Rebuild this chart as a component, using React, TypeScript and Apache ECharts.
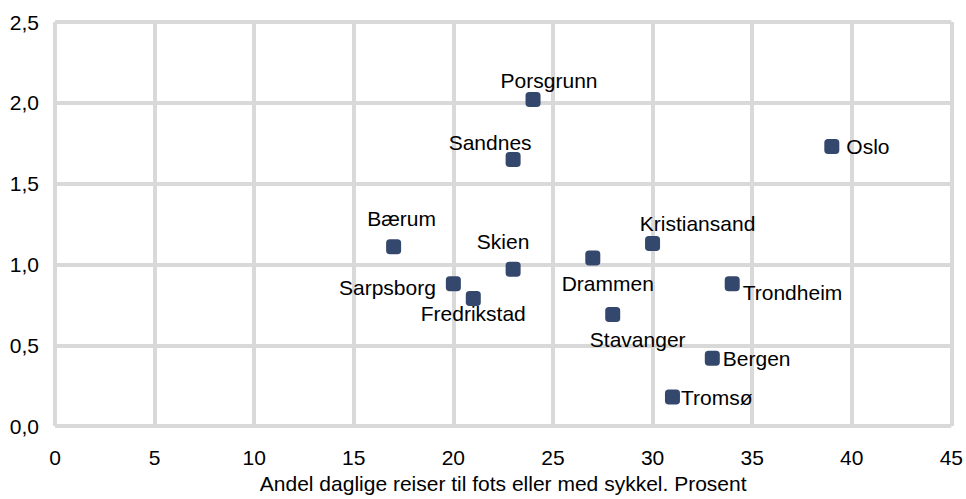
import React, { useEffect, useRef } from "react";
import * as echarts from "echarts";

const cities = [
  "Porsgrunn", "Sandnes", "Oslo", "Bærum", "Skien", "Kristiansand", "Drammen",
  "Sarpsborg", "Fredrikstad", "Trondheim", "Stavanger", "Bergen", "Tromsø",
];
const walkBikeShare = [24, 23, 39, 17, 23, 30, 27, 20, 21, 34, 28, 33, 31];
const yValues = [2.02, 1.65, 1.73, 1.11, 0.97, 1.13, 1.04, 0.88, 0.79, 0.88, 0.69, 0.42, 0.18];

const xTitle = "Andel daglige reiser til fots eller med sykkel. Prosent";

// label placement (styling only)
const labelStyle: Record<string, any> = {
  Porsgrunn: { position: "top", distance: 1, offset: [16, 0] },
  Sandnes: { position: "top", distance: -1, offset: [-23, 0] },
  Oslo: { position: "right", distance: 7 },
  "Bærum": { position: "top", distance: 10, offset: [8, 0] },
  Skien: { position: "top", distance: 10, offset: [-10, 0] },
  Kristiansand: { position: "top", distance: 2, offset: [45, 0] },
  Drammen: { position: "bottom", distance: 8, offset: [15, 0] },
  Sarpsborg: { position: "left", distance: 10, offset: [0, 4] },
  Fredrikstad: { position: "bottom", distance: 0, offset: [0, -3] },
  Trondheim: { position: "right", distance: 3, offset: [0, 9] },
  Stavanger: { position: "bottom", distance: 7, offset: [25, 0] },
  Bergen: { position: "right", distance: 3 },
  "Tromsø": { position: "right", distance: 1 },
};

const FONT = "'Liberation Sans', Arial, sans-serif";
const GRID_COLOR = "#d9d9d9";

export default function App() {
  const ref = useRef<HTMLDivElement>(null);
  useEffect(() => {
    if (!ref.current) return;
    const chart = echarts.init(ref.current, undefined, { renderer: "svg" });
    const data = cities.map((c, i) => ({
      name: c,
      value: [walkBikeShare[i], yValues[i]],
      label: { show: true, formatter: c, ...labelStyle[c] },
    }));
    chart.setOption({
      animation: false,
      textStyle: { fontFamily: FONT },
      grid: { left: 55, right: 14, top: 22, bottom: 66, containLabel: false },
      xAxis: {
        type: "value",
        min: 0,
        max: 45,
        interval: 5,
        name: xTitle,
        nameLocation: "middle",
        nameGap: 44,
        nameTextStyle: { fontSize: 21, color: "#000", fontFamily: FONT },
        axisLine: { show: false },
        axisTick: { show: false },
        axisLabel: { fontSize: 21, color: "#000", margin: 21, fontFamily: FONT },
        splitLine: { show: true, showMinLine: true, showMaxLine: true, lineStyle: { color: GRID_COLOR, width: 4 } },
      },
      yAxis: {
        type: "value",
        min: 0,
        max: 2.5,
        interval: 0.5,
        axisLine: { show: false },
        axisTick: { show: false },
        axisLabel: {
          fontSize: 21,
          color: "#000",
          margin: 16,
          fontFamily: FONT,
          formatter: (v: number) => v.toFixed(1).replace(".", ","),
        },
        splitLine: { show: true, showMinLine: true, showMaxLine: true, lineStyle: { color: GRID_COLOR, width: 4 } },
      },
      series: [
        {
          type: "scatter",
          symbol: "roundRect",
          symbolSize: 15,
          itemStyle: { color: "#34476c", opacity: 1 },
          label: { show: true, fontSize: 21, color: "#000", fontFamily: FONT },
          data,
        },
      ],
    });
    return () => chart.dispose();
  }, []);
  return (
    <div
      ref={ref}
      style={{ position: "fixed", left: 0, top: 0, width: 966, height: 499, background: "#fff" }}
    />
  );
}
